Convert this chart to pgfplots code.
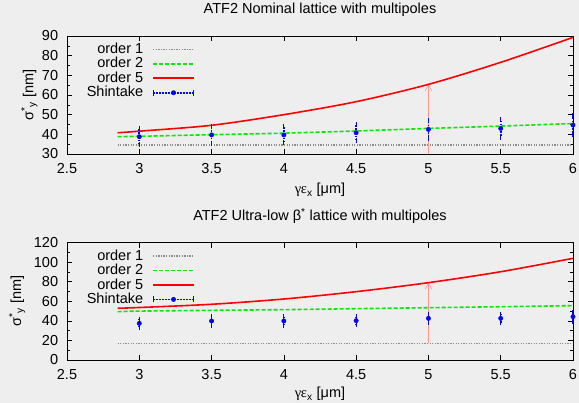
\documentclass[border=0pt]{standalone}
\usepackage{fontspec}
\setmainfont{Liberation Sans}
\newfontfamily\symb{Liberation Serif}
\usepackage{pgfplots}
\pgfplotsset{compat=1.18}
\usetikzlibrary{arrows.meta}
\definecolor{bg}{RGB}{238,238,238}
\definecolor{ogreen}{RGB}{0,235,0}
\definecolor{ogray}{RGB}{140,140,140}
\definecolor{pinkarr}{RGB}{255,150,150}
\newcommand{\fs}{\fontsize{14.5}{16}\selectfont}
\pgfplotsset{
  mystyle/.style={
    scale only axis, width=506pt,
    xmin=2.5, xmax=6, xtick={2.5,3,3.5,4,4.5,5,5.5,6},
    tick align=inside, tick pos=both,
    major tick length=5pt, minor tick length=3pt,
    axis line style={line width=0.8pt},
    every tick/.style={black, line width=0.6pt},
    /pgf/number format/assume math mode=true,
    tick label style={font=\fs},
    label style={font=\fs},
    title style={font=\fs},
    xticklabel style={anchor=base, yshift=-19.5pt},
    yticklabel style={anchor=east, inner sep=0pt, xshift=-8.7pt},
    legend plot pos=right, legend cell align=right,
    legend style={draw=none, fill=none, inner sep=0pt, anchor=north east, font=\fs,
      nodes={inner sep=0pt, text height=11.5pt, text depth=3pt}, column sep=9pt, row sep=0pt},
  },
  o1/.style={ogray, line width=1.2pt, dash pattern=on 1.3pt off 1.3pt,
    legend image code/.code={\draw[ogray, line width=1.2pt, dash pattern=on 1.3pt off 1.3pt] (0pt,0pt) -- (41pt,0pt);}},
  o2/.style={ogreen, line width=1.6pt, dash pattern=on 4pt off 2pt, smooth,
    legend image code/.code={\draw[ogreen, line width=1.6pt, dash pattern=on 4pt off 2pt] (0pt,0pt) -- (41pt,0pt);}},
  o5/.style={red, line width=1.6pt, smooth,
    legend image code/.code={\draw[red, line width=1.6pt] (0pt,0pt) -- (41pt,0pt);}},
  sh/.style={blue, only marks, mark=*, mark size=2.2pt,
    error bars/.cd, y dir=both, y explicit,
    error bar style={blue, line width=1.6pt, dash pattern=on 1.5pt off 1.5pt},
    error mark=-, error mark options={blue, mark size=2.5pt, line width=1.2pt, solid},
    /pgfplots/.cd,
    legend image code/.code={\draw[blue, line width=1.6pt, dash pattern=on 1.5pt off 1.5pt] (0pt,0pt) -- (41pt,0pt);
      \fill[blue] (20.5pt,0pt) circle (2.2pt);
      \draw[blue, line width=1.2pt] (0.6pt,-3pt) -- (0.6pt,3pt) (40.4pt,-3pt) -- (40.4pt,3pt);}},
  arr/.style={pinkarr, line width=0.6pt, -{Straight Barb[length=6pt,width=7pt]}, forget plot},
}
\begin{document}
\begin{tikzpicture}
\fill[bg] (0,0) rectangle (579pt,403pt);
\useasboundingbox (0,0) rectangle (579pt,403pt);
% top axis
\begin{axis}[mystyle, at={(67pt,249pt)}, anchor=south west, height=118pt,
  ymin=30, ymax=90, ytick={30,40,...,90}, minor y tick num=1,
  title={ATF2 Nominal lattice with multipoles},
  title style={at={(axis description cs:0.5,1.144)}, anchor=base},
  xlabel={{\symb γε}\textsubscript{x} [μm]},
  xlabel style={at={(axis description cs:0.5,-0.339)}, anchor=base},
  ylabel={σ\textsuperscript{*}\textsubscript{y} [nm]},
  ylabel style={at={(axis description cs:-0.0666,0.5)}, anchor=base},
  legend style={at={(axis description cs:0.253,0.951)}},
]
\addplot[arr] coordinates {(5,30) (5,65.4)};
\addplot[o1] coordinates {(2.85,34.6) (6,34.6)};
\addlegendentry{order 1}
\addplot[o2] coordinates {(2.85,38.8) (3,39.0) (3.5,39.8) (4,40.6) (4.5,41.7) (5,43.0) (5.5,44.2) (6,45.5)};
\addlegendentry{order 2}
\addplot[o5] coordinates {(2.85,40.8) (3,41.6) (3.5,44.6) (4,50.0) (4.5,56.6) (5,65.4) (5.5,76.6) (6,89.3)};
\addlegendentry{order 5}
\addplot[sh] table[x=x, y=y, y error=e] {
x y e
3 38.8 4.0
3.5 39.7 4.2
4 39.7 4.1
4.5 40.8 4.1
5 42.5 4.5
5.5 43.0 4.5
6 44.7 4.7
};
\addlegendentry{Shintake}
\end{axis}
% bottom axis
\begin{axis}[mystyle, at={(67pt,43pt)}, anchor=south west, height=117.3pt,
  ymin=0, ymax=120, ytick={0,20,...,120}, minor y tick num=1,
  title={ATF2 Ultra-low β\textsuperscript{*} lattice with multipoles},
  title style={at={(axis description cs:0.5,1.134)}, anchor=base},
  xlabel={{\symb γε}\textsubscript{x} [μm]},
  xlabel style={at={(axis description cs:0.5,-0.324)}, anchor=base},
  ylabel={σ\textsuperscript{*}\textsubscript{y} [nm]},
  ylabel style={at={(axis description cs:-0.0909,0.5)}, anchor=base},
  legend style={at={(axis description cs:0.253,0.9506)}},
]
\addplot[arr] coordinates {(5,17.1) (5,79.1)};
\addplot[o1] coordinates {(2.85,17.1) (6,17.1)};
\addlegendentry{order 1}
\addplot[o2] coordinates {(2.85,49.4) (3,50.0) (3.5,50.8) (4,51.5) (4.5,52.5) (5,53.5) (5.5,54.5) (6,55.6)};
\addlegendentry{order 2}
\addplot[o5] coordinates {(2.85,52.9) (3,53.7) (3.5,57.0) (4,62.4) (4.5,69.9) (5,79.1) (5.5,90.3) (6,104.0)};
\addlegendentry{order 5}
\addplot[sh] table[x=x, y=y, y error=e] {
x y e
3 37.5 4.2
3.5 39.9 4.2
4 39.9 4.2
4.5 40.2 4.2
5 42.6 4.4
5.5 42.6 4.4
6 44.3 4.5
};
\addlegendentry{Shintake}
\end{axis}
\end{tikzpicture}
\end{document}
